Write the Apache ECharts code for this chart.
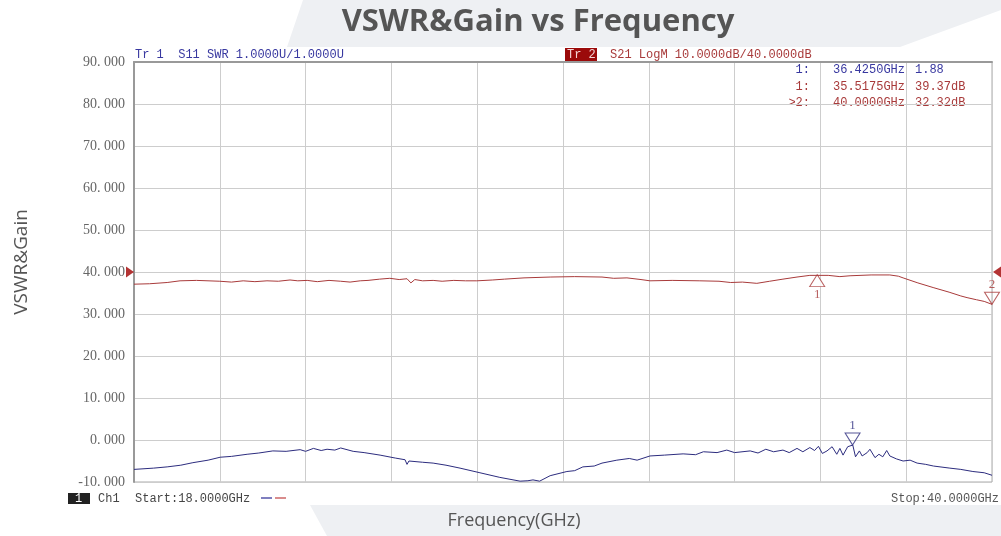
<!DOCTYPE html>
<html>
<head>
<meta charset="utf-8">
<script src="https://cdn.jsdelivr.net/npm/echarts/dist/echarts.min.js"></script>
<style>
  html, body { margin: 0; padding: 0; background: #fff; }
  #main { width: 1001px; height: 536px; }
</style>
</head>
<body>
<div id="main"></div>
<script>
// S21 gain trace (GHz, dB)
var gainFreq = [18.0, 18.4, 18.85, 19.18, 19.6, 20.2, 20.5, 20.8, 21.1, 21.41, 21.7, 22.0, 22.2, 22.44, 22.7, 23.0, 23.3, 23.54, 23.8, 24.0, 24.3, 24.56, 24.8, 25.0, 25.1, 25.2, 25.4, 25.67, 25.9, 26.2, 26.5, 26.79, 27.2, 27.5, 28.0, 28.67, 29.3, 30.0, 30.3, 30.64, 31.0, 31.23, 31.8, 32.51, 33.0, 33.3, 33.6, 33.97, 34.3, 34.64, 35.0, 35.33, 35.8, 36.1, 36.36, 36.9, 37.38, 37.6, 37.72, 38.1, 38.49, 38.9, 39.2, 39.36, 39.6, 39.8, 40.0];
var gainDb   = [37.1, 37.2, 37.5, 37.9, 38.0, 37.8, 37.6, 37.9, 37.7, 37.9, 37.8, 38.1, 37.9, 38.0, 37.7, 38.0, 37.8, 37.6, 37.9, 38.0, 38.3, 38.5, 38.2, 38.4, 37.4, 38.2, 37.9, 38.0, 37.8, 38.0, 37.9, 37.9, 38.1, 38.3, 38.6, 38.8, 38.9, 38.8, 38.5, 38.6, 38.2, 37.9, 38.0, 37.9, 37.8, 37.5, 37.6, 37.3, 37.8, 38.3, 38.8, 39.2, 39.2, 38.9, 39.1, 39.3, 39.3, 39.0, 38.6, 37.4, 36.3, 35.2, 34.3, 33.9, 33.4, 33.0, 32.3];

// S11 SWR trace (GHz, ratio) - 1U/div, ref 1.0 on the bottom line
var swrFreq = [18.0, 18.5, 18.85, 19.2, 19.51, 19.9, 20.21, 20.5, 20.9, 21.2, 21.56, 21.9, 22.26, 22.4, 22.6, 22.8, 22.95, 23.15, 23.3, 23.62, 23.9, 24.31, 24.7, 24.95, 25.0, 25.05, 25.4, 25.67, 26.0, 26.36, 26.87, 27.38, 27.9, 28.1, 28.23, 28.4, 28.67, 29.1, 29.3, 29.51, 29.8, 30.0, 30.38, 30.7, 30.9, 31.23, 31.6, 32.08, 32.4, 32.6, 32.95, 33.2, 33.4, 33.8, 34.0, 34.2, 34.4, 34.64, 34.8, 35.0, 35.15, 35.33, 35.45, 35.55, 35.65, 35.77, 35.9, 36.02, 36.1, 36.18, 36.3, 36.43, 36.5, 36.6, 36.67, 36.8, 36.87, 37.0, 37.1, 37.2, 37.3, 37.38, 37.55, 37.72, 37.9, 38.08, 38.3, 38.5, 38.92, 39.2, 39.51, 39.8, 40.0];
var swrVal  = [1.30, 1.33, 1.36, 1.40, 1.46, 1.52, 1.59, 1.61, 1.66, 1.69, 1.74, 1.73, 1.77, 1.73, 1.80, 1.75, 1.78, 1.76, 1.81, 1.73, 1.70, 1.64, 1.57, 1.53, 1.42, 1.50, 1.47, 1.45, 1.40, 1.33, 1.22, 1.11, 1.02, 1.03, 1.05, 1.02, 1.15, 1.25, 1.27, 1.36, 1.38, 1.45, 1.52, 1.56, 1.52, 1.62, 1.64, 1.67, 1.65, 1.72, 1.70, 1.76, 1.70, 1.74, 1.69, 1.78, 1.72, 1.76, 1.70, 1.80, 1.72, 1.82, 1.75, 1.85, 1.68, 1.74, 1.84, 1.66, 1.80, 1.64, 1.84, 1.88, 1.60, 1.74, 1.62, 1.70, 1.78, 1.58, 1.66, 1.60, 1.75, 1.62, 1.55, 1.50, 1.52, 1.45, 1.42, 1.38, 1.33, 1.30, 1.25, 1.22, 1.16];

// markers
var gainMarkerFreq = [35.5175, 40.0];
var gainMarkerDb   = [39.37, 32.32];
var swrMarkerFreq  = [36.425];
var swrMarkerVal   = [1.88];
var refLevel = 40;

var RED = '#a83a3a';
var BLUE = '#2c2c7e';
var TXT_BLUE = '#3838a0';
var MONO = '12px "Liberation Mono"';

function zip(a, b) {
    return a.map(function (v, i) { return [v, b[i]]; });
}

function txt(x, y, s, color, align) {
    return {
        type: 'text', x: x, y: y,
        style: { text: s, fill: color, font: MONO, textAlign: align || 'left', textVerticalAlign: 'middle' }
    };
}

var dom = document.getElementById('main');
var myChart = echarts.init(dom, null, { renderer: 'canvas' });

var option = {
    animation: false,
    title: {
        text: 'VSWR&Gain vs Frequency',
        left: 533, top: 2, textAlign: 'center',
        textStyle: { fontFamily: 'Open Sans', fontWeight: 'bold', fontSize: 31, color: '#555' }
    },
    graphic: [
        { type: 'polygon', z: -10, shape: { points: [[303, 0], [1001, 0], [1001, 10], [900, 47], [287, 47]] }, style: { fill: '#eef0f3' } },
        { type: 'polygon', z: -10, shape: { points: [[310, 505], [1001, 505], [1001, 536], [327, 536]] }, style: { fill: '#eef0f3' } },
        { type: 'text', x: 22, y: 262, rotation: Math.PI / 2,
          style: { text: 'VSWR&Gain', fill: '#555', font: '19px "Open Sans"', textAlign: 'center', textVerticalAlign: 'middle' } },
        { type: 'text', x: 514, y: 521,
          style: { text: 'Frequency(GHz)', fill: '#555', font: '18px "Open Sans"', textAlign: 'center', textVerticalAlign: 'middle' } },
        txt(135, 55, 'Tr 1  S11 SWR 1.0000U/1.0000U', TXT_BLUE),
        { type: 'rect', shape: { x: 565, y: 48, width: 32, height: 13 }, style: { fill: '#9b0a0a' } },
        txt(567, 55, 'Tr 2', '#f3d6d6'),
        txt(610, 55, 'S21 LogM 10.0000dB/40.0000dB', RED),
        txt(810, 70, '1:', TXT_BLUE, 'right'),
        txt(833, 70, '36.4250GHz', TXT_BLUE),
        txt(915, 70, '1.88', TXT_BLUE),
        txt(810, 87, '1:', RED, 'right'),
        txt(833, 87, '35.5175GHz', RED),
        txt(915, 87, '39.37dB', RED),
        txt(810, 103, '>2:', RED, 'right'),
        txt(833, 103, '40.0000GHz', RED),
        txt(915, 103, '32.32dB', RED),
        { type: 'rect', shape: { x: 68, y: 493, width: 22, height: 11 }, style: { fill: '#222' } },
        txt(75, 499, '1', '#fff'),
        txt(98, 499, 'Ch1', '#444'),
        txt(135, 499, 'Start:18.0000GHz', '#444'),
        { type: 'line', shape: { x1: 261, y1: 498, x2: 272, y2: 498 }, style: { stroke: '#5555aa', lineWidth: 1.5 } },
        { type: 'line', shape: { x1: 275, y1: 498, x2: 286, y2: 498 }, style: { stroke: '#cc6666', lineWidth: 1.5 } },
        txt(999, 499, 'Stop:40.0000GHz', '#555', 'right')
    ],
    grid: {
        left: 134, right: 9, top: 62, bottom: 54,
        show: true, borderColor: '#aaa', borderWidth: 1, backgroundColor: 'transparent'
    },
    xAxis: [
        { type: 'value', min: 18, max: 40, show: false },
        {
            type: 'value', min: 0, max: 10, interval: 1,
            axisLine: { show: true, lineStyle: { color: '#999', width: 2 } },
            axisTick: { show: false }, axisLabel: { show: false },
            splitLine: { show: true, lineStyle: { color: '#cdcdcd', width: 1 } }
        }
    ],
    yAxis: [
        {
            type: 'value', min: -10, max: 90, interval: 10,
            axisLine: { show: true, lineStyle: { color: '#999', width: 2 } },
            axisTick: { show: false },
            axisLabel: {
                margin: 9, color: '#666', fontFamily: 'Liberation Serif', fontSize: 14,
                formatter: function (v) { return v.toFixed(3).replace('.', '. '); }
            },
            splitLine: { lineStyle: { color: '#cdcdcd', width: 1 } }
        },
        { type: 'value', min: 1, max: 11, show: false }
    ],
    series: [
        {
            name: 'S21', type: 'line', xAxisIndex: 0, yAxisIndex: 0,
            data: zip(gainFreq, gainDb), showSymbol: false, symbol: 'none',
            lineStyle: { color: RED, width: 1 }
        },
        {
            name: 'S11', type: 'line', xAxisIndex: 0, yAxisIndex: 1,
            data: zip(swrFreq, swrVal), showSymbol: false, symbol: 'none',
            lineStyle: { color: BLUE, width: 1 }
        },
        {
            name: 'S21 marker 1', type: 'scatter', xAxisIndex: 0, yAxisIndex: 0, clip: false,
            data: [[gainMarkerFreq[0], gainMarkerDb[0]]],
            symbol: 'triangle', symbolSize: [15, 12], symbolOffset: [0, 6],
            itemStyle: { color: '#fff', borderColor: RED, borderWidth: 1 },
            label: { show: true, formatter: '1', position: 'bottom', distance: 1, color: RED, fontFamily: 'Liberation Serif', fontSize: 13 }
        },
        {
            name: 'S21 marker 2', type: 'scatter', xAxisIndex: 0, yAxisIndex: 0, clip: false,
            data: [[gainMarkerFreq[1], gainMarkerDb[1]]],
            symbol: 'triangle', symbolSize: [15, 12], symbolRotate: 180, symbolOffset: [0, -6],
            itemStyle: { color: 'rgba(255,255,255,0)', borderColor: RED, borderWidth: 1 },
            label: { show: true, formatter: '2', position: 'top', distance: 1, color: RED, fontFamily: 'Liberation Serif', fontSize: 13 }
        },
        {
            name: 'S11 marker 1', type: 'scatter', xAxisIndex: 0, yAxisIndex: 1, clip: false,
            data: [[swrMarkerFreq[0], swrMarkerVal[0]]],
            symbol: 'triangle', symbolSize: [15, 12], symbolRotate: 180, symbolOffset: [0, -6],
            itemStyle: { color: 'rgba(255,255,255,0)', borderColor: BLUE, borderWidth: 1 },
            label: { show: true, formatter: '1', position: 'top', distance: 1, color: BLUE, fontFamily: 'Liberation Serif', fontSize: 13 }
        },
        {
            name: 'ref left', type: 'scatter', xAxisIndex: 0, yAxisIndex: 0, clip: false,
            data: [[18, refLevel]],
            symbol: 'triangle', symbolSize: [11, 8], symbolRotate: -90, symbolOffset: [-4, 0],
            itemStyle: { color: '#a00000' }
        },
        {
            name: 'ref right', type: 'scatter', xAxisIndex: 0, yAxisIndex: 0, clip: false,
            data: [[40, refLevel]],
            symbol: 'triangle', symbolSize: [11, 8], symbolRotate: 90, symbolOffset: [5, 0],
            itemStyle: { color: '#a00000' }
        }
    ]
};

myChart.setOption(option);
window.addEventListener('resize', myChart.resize);
</script>
</body>
</html>
